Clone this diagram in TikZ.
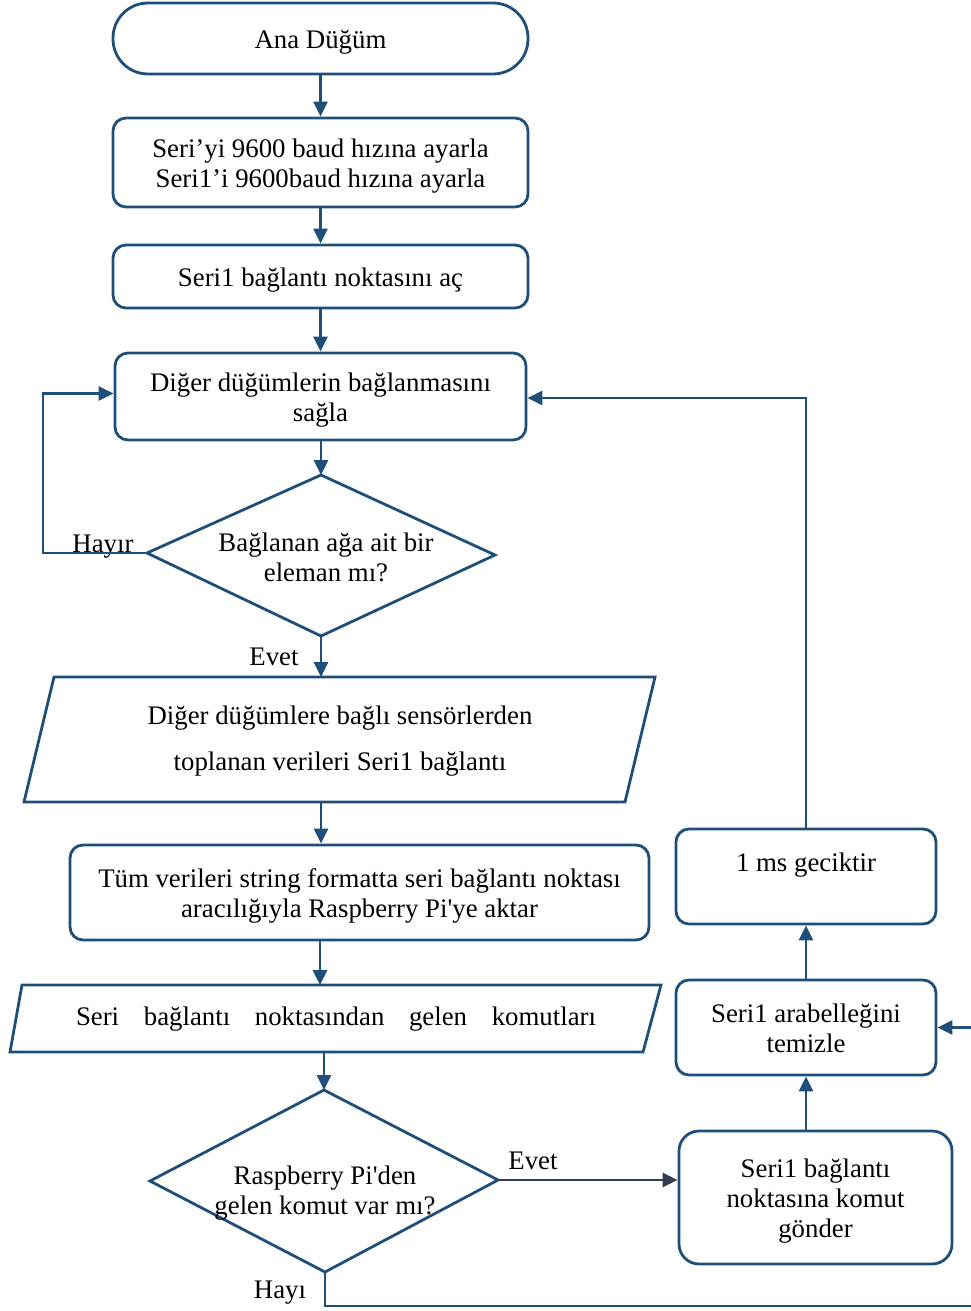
\documentclass[tikz,border=0pt]{standalone}
\usepackage{fontspec}
\setmainfont{Liberation Serif}
\usetikzlibrary{arrows.meta}
\definecolor{fb}{RGB}{31,78,121}
\definecolor{fg}{RGB}{51,63,80}
\newcommand\myfs{\fontsize{26.8}{30}\selectfont}
\newcommand\lowtext[2][10pt]{\raisebox{-#1}[0pt][0pt]{\begin{tabular}{@{}c@{}}#2\end{tabular}}}
\begin{document}
\begin{tikzpicture}[x=1pt,y=-1pt,
  box/.style={draw=fb, line width=2.8pt, rounded corners=13pt, inner sep=0pt, font=\myfs},
  shp/.style={draw=fb, line width=2.8pt, line join=miter},
  txt/.style={align=center, inner sep=0pt, font=\myfs},
  lbl/.style={inner sep=0pt, font=\myfs},
  conn/.style={draw=fb, line width=2.8pt, -{Triangle[length=15pt,width=14pt]}}]
\path[use as bounding box] (0,0) rectangle (971,1311);
\clip (0,0) rectangle (971,1311);

% main column
\node[box, rounded corners=35pt, minimum width=415pt, minimum height=71pt] (ana) at (320.5,38.5) {\lowtext{Ana Düğüm}};
\node[box, minimum width=415pt, minimum height=89pt] (baud) at (320.5,162.5) {\lowtext{Seri’yi 9600 baud hızına ayarla\\Seri1’i 9600baud hızına ayarla}};
\node[box, minimum width=415pt, minimum height=63pt] (open) at (320.5,276.5) {\lowtext{Seri1 bağlantı noktasını aç}};
\node[box, minimum width=411pt, minimum height=87pt] (diger) at (320.5,396.5) {\lowtext{Diğer düğümlerin bağlanmasını\\sağla}};

% decision 1
\coordinate (d1t) at (321,475);
\coordinate (d1l) at (147,553);
\coordinate (d1r) at (495,555);
\coordinate (d1b) at (321,636);
\draw[shp] (d1t) -- (d1r) -- (d1b) -- (d1l) -- cycle;
\node[txt] (q1) at (326,557) {Bağlanan ağa ait bir\\eleman mı?};

% parallelogram 1
\coordinate (p1t) at (321,677);
\coordinate (p1b) at (321,802);
\draw[shp] (54,677) -- (655,677) -- (625,802) -- (24,802) -- cycle;
\node[txt, font=\fontsize{26.8}{46}\selectfont] (p1) at (340,741.5) {Diğer düğümlere bağlı sensörlerden\\toplanan verileri Seri1 bağlantı};

\node[box, minimum width=579pt, minimum height=95pt] (tum) at (359.5,892.5) {\lowtext{Tüm verileri string formatta seri bağlantı noktası\\aracılığıyla Raspberry Pi\textquotesingle ye aktar}};

% parallelogram 2
\coordinate (p2t) at (320,985);
\coordinate (p2b) at (324,1052);
\draw[shp] (22,985) -- (661,985) -- (643,1052) -- (10,1052) -- cycle;
\node[txt] (p2) at (336,1019) {\hbox to 520pt{Seri\hfill bağlantı\hfill noktasından\hfill gelen\hfill komutları}};

% decision 2
\coordinate (d2t) at (324,1090);
\coordinate (d2l) at (150,1181);
\coordinate (d2r) at (498,1180);
\coordinate (d2b) at (325,1272);
\draw[shp] (d2t) -- (d2r) -- (d2b) -- (d2l) -- cycle;
\node[txt] (q2) at (325,1193) {Raspberry Pi\textquotesingle den\\gelen komut var mı?};

% right column
\node[box, minimum width=260pt, minimum height=95pt] (delay) at (806,876.5) {\lowtext[-5pt]{1 ms geciktir}};
\node[box, minimum width=260pt, minimum height=95pt] (clear) at (806,1027.5) {\lowtext{Seri1 arabelleğini\\temizle}};
\node[box, rounded corners=20pt, minimum width=273pt, minimum height=133pt] (send) at (815.5,1197.5) {\lowtext{Seri1 bağlantı\\noktasına komut\\gönder}};

% labels
\node[lbl] (hayir) at (103,547) {Hayır};
\node[lbl] (evet1) at (274,657) {Evet};
\node[lbl] (evet2) at (533,1161) {Evet};
\node[lbl] (hayi) at (280,1293) {Hayı};

% connectors
\draw[conn] (ana) -- (baud);
\draw[conn] (baud) -- (open);
\draw[conn] (open) -- (diger);
\draw[conn] (diger.south -| d1t) -- (d1t);
\draw[conn] (d1l) -- ++(-104,0) |- ([yshift=3pt]diger.west);
\draw[conn] (d1b) -- (p1t);
\draw[conn] (p1b) -- (p1b |- tum.north);
\draw[conn] (p2t |- tum.south) -- (p2t);
\draw[conn] (p2b) -- (d2t);
\draw[conn, draw=fg] (d2r) -- (d2r -| send.west);
\draw[conn] (send.north -| clear.south) -- (clear.south);
\draw[conn] (clear.north) -- (delay.south);
\draw[conn] (delay.north) |- ([yshift=-1.5pt]diger.east);
\draw[conn] (d2b) -- (325,1306) -- (990,1306) |- (clear.east);
\end{tikzpicture}
\end{document}
